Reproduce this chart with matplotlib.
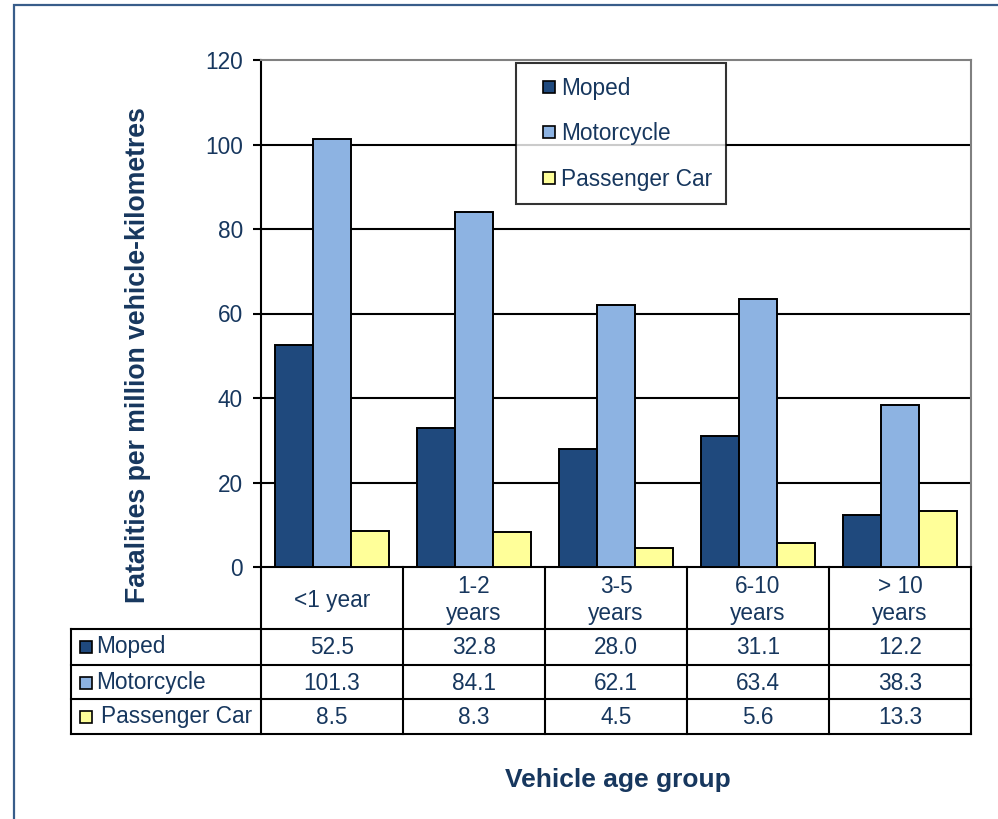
import numpy as np
import matplotlib.pyplot as plt
from matplotlib.patches import Rectangle
from matplotlib.lines import Line2D

plt.rcParams['font.family'] = ['Liberation Sans', 'DejaVu Sans']

# data
age_groups = ['<1 year', '1-2\nyears', '3-5\nyears', '6-10\nyears', '> 10\nyears']
series = ['Moped', 'Motorcycle', 'Passenger Car']
moped = [52.5, 32.8, 28.0, 31.1, 12.2]
motorcycle = [101.3, 84.1, 62.1, 63.4, 38.3]
passenger_car = [8.5, 8.3, 4.5, 5.6, 13.3]

colors = ['#1F497D', '#8DB3E2', '#FFFF99']
txt = '#17375E'
fs = 16.3
W, H = 998, 819

fig = plt.figure(figsize=(W / 100, H / 100), dpi=100)

# outer frame
fig.patches.append(Rectangle((14 / W, -0.1), 1.2, 1 - 5 / H + 0.1, transform=fig.transFigure,
                             fill=False, edgecolor='#385D8A', linewidth=1.6))

ax = fig.add_axes([261 / W, (H - 567) / H, 710 / W, 507 / H])

x = np.arange(len(age_groups))
bw = 0.268
for i, (vals, c) in enumerate(zip([moped, motorcycle, passenger_car], colors)):
    ax.bar(x + (i - 1) * bw, vals, bw, color=c, edgecolor='black', linewidth=1.4, zorder=3)

ax.set_xlim(-0.5, len(age_groups) - 0.5)
ax.set_ylim(0, 120)
yt = np.arange(0, 121, 20)
ax.set_yticks(yt)
ax.set_yticklabels([str(v) for v in yt], fontsize=fs, color=txt)
ax.tick_params(axis='y', length=6, width=1.5, color='black', pad=7)
ax.set_xticks([])
for v in yt[1:-1]:
    ax.axhline(v, color='black', linewidth=1.5, zorder=1)

ax.spines['left'].set_linewidth(1.5)
ax.spines['bottom'].set_linewidth(1.5)
ax.spines['top'].set_color('#808080')
ax.spines['right'].set_color('#808080')
ax.spines['top'].set_linewidth(1.5)
ax.spines['right'].set_linewidth(1.5)

handles = [Line2D([], [], linestyle='none', marker='s', markersize=8.6, markerfacecolor=c,
                  markeredgecolor='black', markeredgewidth=1.2) for c in colors]
leg = ax.legend(handles, series, loc='upper left', bbox_to_anchor=(0.359, 0.994), fontsize=fs,
                frameon=True, fancybox=False, edgecolor='black', handlelength=1.75,
                handletextpad=-0.35, labelspacing=1.0, borderpad=0.6, borderaxespad=0)
leg.get_frame().set_linewidth(1.5)
leg.set_zorder(5)
for t in leg.get_texts():
    t.set_color(txt)

# data table under the axis
tr = ax.get_xaxis_transform()


def fy(p):
    return (567 - p) / 507


def fx(p):
    return -0.5 + (p - 261) / 142


kw = dict(transform=tr, clip_on=False, color='black', linewidth=1.5)
for b in np.arange(len(age_groups) + 1) - 0.5:
    ax.plot([b, b], [fy(567), fy(734)], **kw)
ax.plot([fx(71), fx(71)], [fy(629), fy(734)], **kw)
for p in [629, 665, 699, 734]:
    ax.plot([fx(71), len(age_groups) - 0.5], [fy(p), fy(p)], **kw)

for i, lab in enumerate(age_groups):
    ax.text(i, fy(600), lab, transform=tr, ha='center', va='center', fontsize=fs, color=txt,
            linespacing=1.2)

rows = [moped, motorcycle, passenger_car]
row_y = [647, 683, 717]
for r, (vals, name, c, py) in enumerate(zip(rows, series, colors, row_y)):
    for i, v in enumerate(vals):
        ax.text(i, fy(py), f'{v:.1f}', transform=tr, ha='center', va='center', fontsize=fs, color=txt)
    ax.add_patch(Rectangle((fx(80), fy(py + 6)), 12 / 142, 12 / 507, transform=tr, clip_on=False,
                           facecolor=c, edgecolor='black', linewidth=1.2))
    tx = 101 if r == 2 else 96
    ax.text(fx(tx), fy(py), name, transform=tr, ha='left', va='center', fontsize=fs, color=txt)

fig.text(138 / W, 1 - 355 / H, 'Fatalities per million vehicle-kilometres', rotation=90,
         ha='center', va='center', fontsize=19.2, fontweight='bold', color=txt)
fig.text(618 / W, 1 - 780 / H, 'Vehicle age group', ha='center', va='center',
         fontsize=19, fontweight='bold', color=txt)

fig.savefig('out.png', dpi=100, facecolor='white')
